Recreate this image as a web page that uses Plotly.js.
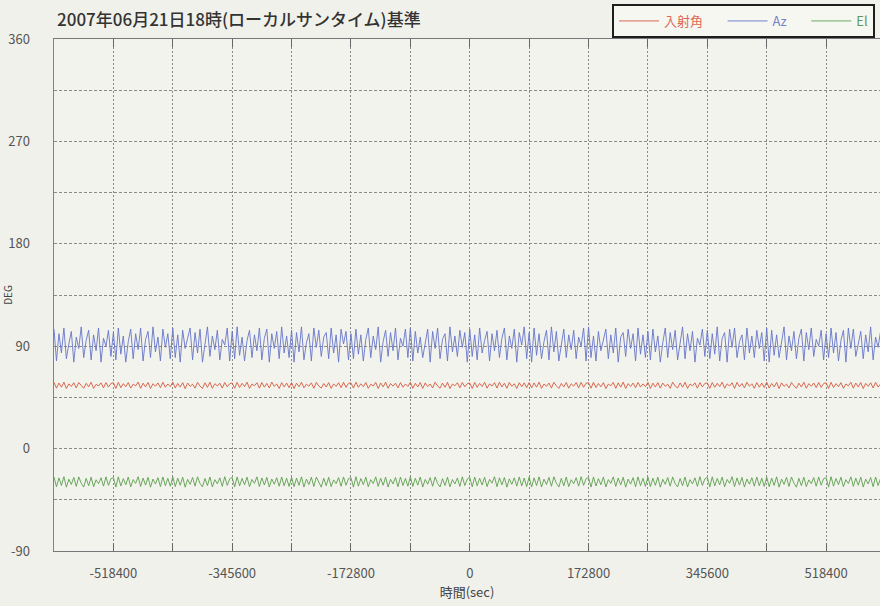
<!DOCTYPE html>
<html>
<head>
<meta charset="utf-8">
<script src="https://cdn.plot.ly/plotly-3.0.1.min.js"></script>
<style>html,body{margin:0;padding:0;background:#f1f1eb;}</style>
</head>
<body>
<div id="chart" style="width:880px;height:606px;"></div>
<script>
// time axis: hourly samples from -604800 s to +604800 s
const tStart = -604800;
const tStep = 3600;

// Azimuth Az (deg)
const azValues = [
105,77,101,84,106,79,92,103,76,98,88,107,80,95,104,78,100,86,106,76,97,90,104,81,
102,78,106,83,99,76,94,105,79,101,87,106,77,96,103,80,107,85,98,77,105,89,101,79,
106,80,100,76,104,88,97,106,78,102,84,105,76,93,107,81,99,87,104,78,96,91,106,77,
103,79,107,82,98,77,95,104,80,100,86,106,78,97,105,76,101,88,103,79,107,84,99,80,
104,76,102,85,107,78,93,101,77,106,89,104,81,98,102,79,106,84,100,76,105,92,103,78,
101,79,105,83,100,77,96,106,80,99,87,107,76,94,104,81,102,86,106,78,97,90,105,80,
106,77,103,84,98,80,92,105,76,103,88,106,79,96,101,77,107,85,99,81,104,89,102,76,
105,81,100,78,106,84,95,103,77,101,86,104,80,97,106,78,99,88,105,76,102,91,107,79,
102,76,106,82,101,79,94,104,78,107,85,103,77,93,105,80,100,87,104,79,98,90,106,77,
107,80,99,77,103,86,96,105,79,100,84,106,76,98,102,81,105,88,101,77,106,83,100,80,
103,78,105,85,99,76,93,106,80,102,87,104,78,95,107,79,101,86,103,76,97,91,105,81,
104,79,101,83,107,77,97,102,76,105,89,106,80,94,100,78,106,84,99,80,104,88,102,77,
106,76,104,82,100,80,92,107,78,99,86,103,79,97,105,77,102,87,106,81,96,90,104,78,
101,80,106,84,102,77,95,104,76,106,88,105,81,93,103,79,100,85,107,78,98,89,103,80,
104
];

// Incidence angle 入射角 (deg)
const incValues = [
58.2,53.1,57.6,54.0,58.4,52.8,56.9,54.6,57.9,53.3,58.1,55.2,53.0,57.4,54.3,58.3,52.9,56.5,55.0,57.8,53.4,58.0,54.1,57.2,
57.9,52.9,58.3,53.6,57.1,54.4,58.0,53.2,56.7,55.1,58.4,53.0,57.5,54.2,58.1,52.8,57.0,54.8,57.7,53.5,58.3,53.9,56.8,54.5,
58.4,53.3,57.3,54.1,58.0,52.7,57.6,54.7,56.6,53.1,58.2,54.9,52.9,57.8,53.8,58.3,53.0,57.1,55.0,57.5,53.2,58.1,54.3,57.0,
57.7,53.0,58.2,53.7,57.4,54.5,58.4,52.9,56.8,55.2,57.9,53.1,58.1,54.0,57.3,53.3,58.4,54.6,56.9,52.8,58.0,54.2,57.6,53.5,
58.1,52.8,57.5,54.3,58.3,53.4,56.7,54.8,57.8,53.0,58.2,55.0,53.2,57.2,54.1,58.0,52.9,56.9,54.7,57.9,53.6,58.3,53.8,57.4,
57.8,53.2,58.4,53.9,57.0,54.4,58.1,53.0,56.6,55.1,58.2,52.8,57.7,54.2,58.4,53.1,57.2,54.9,57.5,53.4,58.0,54.0,56.8,54.6,
58.3,53.0,57.4,54.2,58.1,52.9,57.7,54.5,56.8,53.3,58.4,55.0,53.1,57.6,53.9,58.2,52.8,56.7,55.2,57.9,53.5,58.1,54.3,57.1,
57.6,52.9,58.2,53.8,57.3,54.6,58.3,53.1,56.9,55.0,58.0,53.2,58.4,54.1,57.5,53.0,58.1,54.7,57.0,52.8,57.9,54.4,57.8,53.6,
58.0,53.3,57.7,54.0,58.4,53.0,56.8,54.8,57.6,53.2,58.3,55.1,52.9,57.3,54.2,58.1,53.1,57.0,54.9,58.0,53.4,58.2,53.9,57.5,
57.9,53.1,58.3,53.6,57.2,54.3,58.0,52.8,56.7,55.2,58.2,53.0,57.8,54.0,58.4,52.9,57.1,54.6,57.6,53.5,58.1,54.1,56.9,54.4,
58.2,52.8,57.5,54.1,58.0,53.2,57.6,54.7,56.6,53.0,58.4,54.9,53.3,57.7,54.0,58.3,52.9,56.8,55.1,57.8,53.1,58.0,54.2,57.3,
57.7,53.0,58.1,53.9,57.4,54.5,58.4,53.1,56.9,55.0,57.9,52.9,58.2,54.3,57.2,53.4,58.3,54.8,57.0,53.0,58.0,54.0,57.6,53.7,
58.4,53.2,57.3,54.2,58.2,52.8,57.8,54.6,56.7,53.3,58.1,55.2,53.0,57.5,54.1,58.4,53.0,57.1,54.8,57.7,53.6,58.2,53.8,57.2,
57.8,52.9,58.3,53.7,57.1,54.4,58.0,53.0,56.8,55.1,58.3,53.1,57.6,54.2,58.1,52.8,57.3,54.7,57.9,53.3,58.2,54.1,56.7,54.5,
58.0
];

// Elevation El (deg)
const elValues = [
-25.0,-33.6,-25.8,-32.4,-24.7,-33.9,-26.9,-31.5,-25.3,-33.2,-24.9,-30.4,-33.8,-26.2,-32.7,-25.1,-33.5,-27.4,-30.9,-25.6,-33.0,-24.8,-32.3,-26.5,
-25.4,-33.8,-24.8,-32.9,-26.4,-31.8,-25.0,-33.6,-27.2,-30.6,-24.7,-33.3,-25.9,-32.1,-25.2,-33.9,-26.8,-31.2,-25.5,-33.4,-24.9,-32.6,-26.1,-33.1,
-24.9,-33.4,-26.0,-32.2,-25.1,-33.9,-27.0,-31.4,-25.4,-33.0,-24.8,-30.7,-33.6,-26.3,-32.5,-25.0,-33.7,-27.3,-31.0,-25.7,-33.2,-24.7,-32.4,-26.6,
-25.3,-33.7,-24.9,-32.8,-26.2,-31.9,-25.1,-33.5,-27.1,-30.5,-24.8,-33.4,-25.8,-32.0,-25.3,-33.8,-26.7,-31.3,-25.6,-33.1,-25.0,-32.7,-26.0,-33.3,
-25.1,-33.5,-25.9,-32.3,-24.8,-33.8,-26.8,-31.6,-25.2,-33.3,-25.0,-30.3,-33.9,-26.1,-32.6,-25.2,-33.4,-27.5,-30.8,-25.5,-33.1,-24.9,-32.2,-26.4,
-25.5,-33.9,-24.7,-33.0,-26.3,-31.7,-25.1,-33.5,-27.3,-30.7,-24.8,-33.2,-26.0,-32.2,-25.1,-33.8,-26.9,-31.1,-25.4,-33.5,-25.0,-32.5,-26.2,-33.0,
-24.8,-33.3,-26.1,-32.1,-25.0,-33.8,-27.1,-31.3,-25.5,-33.1,-24.9,-30.6,-33.7,-26.4,-32.4,-25.1,-33.6,-27.2,-31.1,-25.8,-33.3,-24.8,-32.5,-26.7,
-25.2,-33.6,-25.0,-32.7,-26.1,-32.0,-25.2,-33.4,-27.0,-30.4,-24.7,-33.5,-25.7,-31.9,-25.4,-33.9,-26.6,-31.4,-25.7,-33.0,-24.9,-32.8,-25.9,-33.4,
-25.0,-33.7,-25.7,-32.5,-24.8,-33.8,-26.9,-31.6,-25.3,-33.1,-24.8,-30.5,-33.8,-26.2,-32.8,-25.0,-33.4,-27.4,-30.9,-25.6,-33.0,-24.7,-32.3,-26.5,
-25.4,-33.8,-24.9,-32.9,-26.4,-31.8,-25.0,-33.7,-27.2,-30.6,-24.8,-33.2,-25.9,-32.0,-25.2,-33.9,-26.8,-31.2,-25.5,-33.5,-24.9,-32.6,-26.1,-33.2,
-24.9,-33.4,-26.0,-32.3,-25.1,-33.9,-27.0,-31.4,-25.4,-33.0,-24.9,-30.8,-33.6,-26.3,-32.6,-25.0,-33.7,-27.3,-31.0,-25.7,-33.2,-24.7,-32.4,-26.6,
-25.3,-33.7,-24.8,-32.8,-26.2,-31.9,-25.1,-33.5,-27.1,-30.5,-24.7,-33.4,-25.8,-32.1,-25.3,-33.8,-26.7,-31.3,-25.6,-33.1,-25.0,-32.7,-26.0,-33.3,
-25.1,-33.5,-25.9,-32.4,-24.8,-33.9,-26.8,-31.5,-25.2,-33.3,-25.0,-30.3,-33.9,-26.1,-32.6,-25.2,-33.4,-27.5,-30.8,-25.5,-33.1,-24.9,-32.2,-26.4,
-25.5,-33.9,-24.7,-33.0,-26.3,-31.7,-25.1,-33.5,-27.3,-30.7,-24.8,-33.2,-26.0,-32.2,-25.1,-33.8,-26.9,-31.1,-25.4,-33.5,-25.0,-32.5,-26.2,-33.0,
-25.2
];

const xTickVals = [-604800,-518400,-432000,-345600,-259200,-172800,-86400,0,86400,172800,259200,345600,432000,518400,604800];
const xTickText = ['','-518400','','-345600','','-172800','','0','','172800','','345600','','518400',''];
const yTickVals = [-90,-45,0,45,90,135,180,225,270,315,360];
const yTickText = ['-90','','0','','90','','180','','270','','360'];

const seriesNames = ['入射角','Az','El'];
const seriesColors = ['#d65a3e','#6676ca','#5c9e4e'];
const legendTextColors = ['#dd6655','#7484c4','#5f9a52'];
const legendPad = '&nbsp;&nbsp;&nbsp;&nbsp;&nbsp;';

const times = azValues.map((_, i) => tStart + i * tStep);

const font = '"Noto Sans CJK JP", "Noto Sans", sans-serif';

const traces = [incValues, azValues, elValues].map((vals, k) => ({
  type: 'scatter',
  mode: 'lines',
  x: times,
  y: vals,
  name: '<span style="color:' + legendTextColors[k] + '">' + seriesNames[k] + '</span>' + (k < 2 ? legendPad : ''),
  line: {color: seriesColors[k], width: 1},
  opacity: 0.9,
  hoverinfo: 'skip'
}));

const layout = {
  width: 880,
  height: 606,
  margin: {l: 54, r: 0, t: 39, b: 55},
  paper_bgcolor: '#f1f1eb',
  plot_bgcolor: '#f3f3ed',
  font: {family: font, size: 13, color: '#555555'},
  title: {
    text: '2007年06月21日18時(ローカルサンタイム)基準',
    x: 57/880, xanchor: 'left', xref: 'container',
    y: 1 - 20/606, yanchor: 'middle', yref: 'container',
    font: {family: font, size: 17, color: '#333333', weight: 500}
  },
  showlegend: true,
  legend: {
    orientation: 'h',
    x: (875 - 54) / 826, xanchor: 'right',
    y: 1 + 35/512, yanchor: 'top',
    bgcolor: '#f7f7f2',
    bordercolor: '#1e1e1e',
    borderwidth: 2,
    font: {family: font, size: 13, color: '#555555'},
    itemwidth: 40
  },
  xaxis: {
    range: [-604800, 596800],
    tickmode: 'array',
    tickvals: xTickVals,
    ticktext: xTickText,
    ticks: 'inside',
    ticklen: 8,
    tickcolor: '#666666',
    showline: true,
    linecolor: '#777777',
    linewidth: 1,
    mirror: 'ticks',
    showgrid: true,
    gridcolor: '#8a8a8a',
    griddash: '2px,2px',
    gridwidth: 1,
    zeroline: false,
    ticklabelstandoff: 10,
    tickfont: {family: font, size: 13, color: '#555555'},
    title: {text: '時間(sec)', font: {family: font, size: 13, color: '#444444'}, standoff: 6}
  },
  yaxis: {
    range: [-90, 360],
    tickmode: 'array',
    tickvals: yTickVals,
    ticktext: yTickText,
    ticks: '',
    showline: true,
    linecolor: '#8a7a9c',
    linewidth: 1.5,
    showgrid: true,
    gridcolor: '#8a8a8a',
    griddash: '3px,2px',
    gridwidth: 1,
    zeroline: false,
    ticklabelstandoff: 20,
    tickfont: {family: font, size: 13, color: '#555555'},
    title: {text: 'DEG', font: {family: font, size: 10, color: '#444444'}, standoff: 4}
  }
};

Plotly.newPlot('chart', traces, layout, {displayModeBar: false, staticPlot: true});
</script>
</body>
</html>
